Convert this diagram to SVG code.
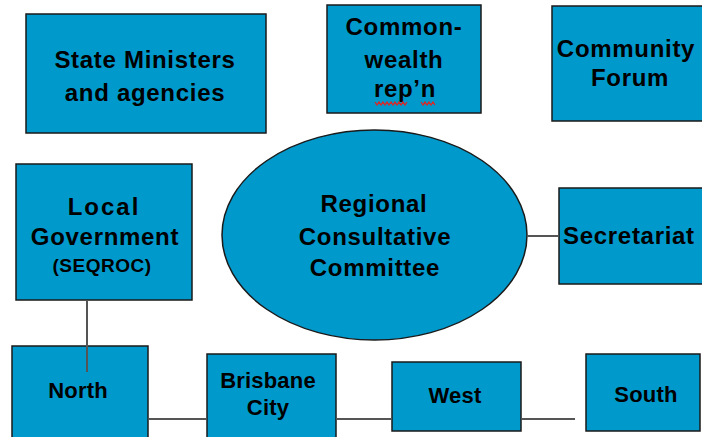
<svg xmlns="http://www.w3.org/2000/svg" width="702" height="437" viewBox="0 0 702 437">
  <style>
    .box { fill: #0099cc; stroke: #1a1a1a; stroke-width: 1.5; }
    .link { stroke: #555555; stroke-width: 2; fill: none; }
    .lbl { font-family: "Liberation Sans", Arial, sans-serif; font-weight: bold; font-size: 24px; fill: #000000; text-anchor: middle; letter-spacing: 0.7px; }
    .sm { font-size: 22px; letter-spacing: 0.2px; }
    .sub { font-size: 19px; letter-spacing: 0.5px; }
    .squiggle { fill: none; stroke: #d42a2a; stroke-width: 1.3; }
  </style>
  <rect width="702" height="437" fill="#ffffff"/>

  <g id="state-ministers">
    <rect class="box" x="26" y="14" width="240" height="119"/>
    <text class="lbl" x="145" y="68">State Ministers</text>
    <text class="lbl" x="145" y="101">and agencies</text>
  </g>

  <g id="commonwealth">
    <rect class="box" x="327" y="5" width="154" height="108"/>
    <text class="lbl" x="404" y="35">Common-</text>
    <text class="lbl" x="404" y="68">wealth</text>
    <text class="lbl" x="405" y="97">rep’n</text>
    <path class="squiggle" d="M375 102 l2 3 l2 -3 l2 3 l2 -3 l2 3 l2 -3 l2 3 l2 -3 l2 3 l2 -3 l2 3 l2 -3 l2 3 l2 -3 l2 3 l2 -3 M421 102 l2 3 l2 -3 l2 3 l2 -3 l2 3 l2 -3 l2 3"/>
  </g>

  <g id="community-forum">
    <rect class="box" x="552" y="6" width="160" height="115"/>
    <text class="lbl" x="626" y="57">Community</text>
    <text class="lbl" x="630" y="86">Forum</text>
  </g>

  <g id="local-government">
    <rect class="box" x="16" y="164" width="176" height="136"/>
    <text class="lbl" x="104" y="215" style="letter-spacing:2px">Local</text>
    <text class="lbl" x="105" y="245">Government</text>
    <text class="lbl sub" x="102" y="272">(SEQROC)</text>
  </g>

  <g id="rcc">
    <ellipse class="box" cx="374.5" cy="235" rx="152.5" ry="105"/>
    <text class="lbl" x="374" y="212">Regional</text>
    <text class="lbl" x="375" y="245">Consultative</text>
    <text class="lbl" x="375" y="276">Committee</text>
  </g>

  <g id="secretariat">
    <rect class="box" x="559" y="188" width="160" height="96"/>
    <text class="lbl" x="563" y="244" style="text-anchor:start">Secretariat</text>
  </g>

  <g id="north">
    <rect class="box" x="12" y="346" width="136" height="100"/>
    <text class="lbl sm" x="78" y="398">North</text>
  </g>

  <g id="brisbane-city">
    <rect class="box" x="207" y="354" width="129" height="92"/>
    <text class="lbl sm" x="268" y="388">Brisbane</text>
    <text class="lbl sm" x="268" y="415">City</text>
  </g>

  <g id="west">
    <rect class="box" x="392" y="362" width="129" height="69"/>
    <text class="lbl sm" x="455" y="403">West</text>
  </g>

  <g id="south">
    <rect class="box" x="586" y="354" width="114" height="77"/>
    <text class="lbl sm" x="646" y="402">South</text>
  </g>

  <!-- links sit above the boxes; the Local Government drop runs into North -->
  <g id="connectors">
    <line class="link" x1="87" y1="301" x2="87" y2="372"/>
    <line class="link" x1="527" y1="236" x2="558" y2="236"/>
    <line class="link" x1="149" y1="419" x2="206" y2="419"/>
    <line class="link" x1="337" y1="419" x2="391" y2="419"/>
    <line class="link" x1="522" y1="419" x2="575" y2="419"/>
  </g>
</svg>
